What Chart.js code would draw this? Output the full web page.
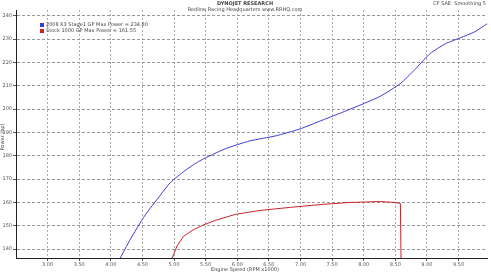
<!DOCTYPE html>
<html>
<head>
<meta charset="utf-8">
<script src="https://cdn.jsdelivr.net/npm/chart.js@4"></script>
<style>
  body { margin: 0; background: #fff; }
  canvas { display: block; }
</style>
</head>
<body>
<canvas id="dyno" width="491" height="272"></canvas>
<script>
// datos (rpm x1000, hp)
const rpmAzul = [4.15, 4.30, 4.54, 4.78, 4.94, 5.17, 5.41, 5.81, 6.20, 6.60, 6.99, 7.31, 7.63, 7.94, 8.26, 8.58, 8.81, 9.05, 9.29, 9.53, 9.76, 9.95];
const hpAzul  = [136.2, 143.8, 154.5, 163, 168.5, 173.6, 177.9, 183, 186.4, 188.5, 191.5, 194.9, 198.3, 201.7, 205.5, 211, 217, 223.8, 228, 230.6, 233.2, 236.6];
const rpmRojo = [4.97, 5.05, 5.15, 5.30, 5.45, 5.65, 5.97, 6.36, 6.84, 7.31, 7.78, 8.26, 8.50, 8.58, 8.59];
const hpRojo  = [136.2, 141.5, 145.5, 148.2, 150.2, 152.3, 154.9, 156.6, 157.9, 159.1, 160, 160.4, 160, 159.6, 136.2];
const etiquetasX = [3.0, 3.5, 4.0, 4.5, 5.0, 5.5, 6.0, 6.5, 7.0, 7.5, 8.0, 8.5, 9.0, 9.5];
const etiquetasY = [140, 150, 160, 170, 180, 190, 200, 210, 220, 230, 240];
const nombres = ["2008 K3 Stage1 GP Max Power = 234.80", "Stock 1000 GP Max Power = 161.55"];

const puntos = (xs, ys) => xs.map((x, i) => ({ x: x, y: ys[i] }));

const textos = {
  id: "textos",
  afterDraw(chart) {
    const c = chart.ctx;
    c.save();
    c.fillStyle = "#444";
    c.textAlign = "center";
    c.textBaseline = "top";
    c.font = "bold 5px 'DejaVu Sans'";
    c.fillText("DYNOJET RESEARCH", 245, 1);
    c.font = "5px 'DejaVu Sans'";
    c.fillText("Redline Racing Headquarters www.RRHQ.com", 245, 7);
    c.textAlign = "right";
    c.fillText("CF SAE  Smoothing 5", 486, 1);
    // leyenda
    c.textAlign = "left";
    c.textBaseline = "middle";
    const cols = ["#3b3bd6", "#c8232b"];
    nombres.forEach((n, i) => {
      const y = 25 + i * 6;
      c.fillStyle = cols[i];
      c.fillRect(40, y - 2, 4, 4);
      c.fillStyle = "#444";
      c.fillText(n, 46, y);
    });
    // titulos de ejes
    c.textAlign = "center";
    c.textBaseline = "bottom";
    c.fillText("Engine Speed (RPM x1000)", 245, 272);
    c.translate(3, 137);
    c.rotate(-Math.PI / 2);
    c.textBaseline = "middle";
    c.fillText("Power (hp)", 0, 0);
    c.restore();
  }
};

new Chart(document.getElementById("dyno"), {
  type: "scatter",
  data: {
    datasets: [
      {
        label: nombres[0],
        data: puntos(rpmAzul, hpAzul),
        showLine: true,
        borderColor: "#3b3bd6",
        borderWidth: 1,
        pointRadius: 0,
        tension: 0.2
      },
      {
        label: nombres[1],
        data: puntos(rpmRojo, hpRojo),
        showLine: true,
        borderColor: "#c8232b",
        borderWidth: 1,
        pointRadius: 0,
        tension: 0
      }
    ]
  },
  options: {
    responsive: false,
    animation: false,
    layout: { padding: { top: 10, right: 4, left: 0, bottom: 0 } },
    plugins: { legend: { display: false }, tooltip: { enabled: false } },
    scales: {
      x: {
        min: 2.5,
        max: 9.95,
        afterBuildTicks: (s) => { s.ticks = etiquetasX.map(v => ({ value: v })); },
        afterFit: (s) => { s.height = 14; },
        border: { color: "#222", width: 1, dash: [2, 2] },
        grid: { color: "#aaa", tickLength: 3, tickColor: "#555" },
        ticks: {
          font: { size: 5, family: "DejaVu Sans" },
          color: "#555",
          padding: 1,
          maxRotation: 0,
          callback: (v) => Number(v).toFixed(2)
        }
      },
      y: {
        min: 136.2,
        max: 242.5,
        afterBuildTicks: (s) => { s.ticks = etiquetasY.map(v => ({ value: v })); },
        afterFit: (s) => { s.width = 16; },
        border: { color: "#222", width: 1, dash: [3, 2] },
        grid: { color: "#999", tickLength: 3, tickColor: "#555" },
        ticks: {
          font: { size: 5, family: "DejaVu Sans" },
          color: "#555",
          padding: 1,
          callback: (v) => String(v)
        }
      }
    }
  },
  plugins: [textos]
});
</script>
</body>
</html>
